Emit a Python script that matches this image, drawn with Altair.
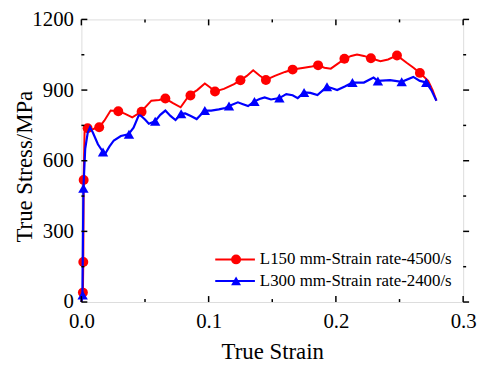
import altair as alt
import pandas as pd

# ---- data ----
red_strain = [0.0, 0.0012, 0.0015, 0.0018, 0.0025, 0.0035, 0.005, 0.008, 0.011, 0.014, 0.018, 0.023,
              0.029, 0.034, 0.040, 0.047, 0.055, 0.061, 0.066, 0.072, 0.078, 0.085, 0.091, 0.097,
              0.101, 0.105, 0.112, 0.120, 0.125, 0.130, 0.135, 0.140, 0.145, 0.152, 0.160, 0.166,
              0.175, 0.181, 0.186, 0.191, 0.196, 0.201, 0.207, 0.212, 0.2166, 0.222, 0.2275, 0.235,
              0.241, 0.248, 0.2556, 0.261, 0.266, 0.2725, 0.276, 0.279]
red_stress = [0, 40, 170, 518, 720, 745, 738, 732, 738, 742, 770, 813,
              810, 800, 784, 808, 855, 858, 864, 845, 827, 880, 900, 928,
              912, 894, 905, 925, 942, 960, 984, 962, 943, 960, 977, 987,
              995, 1000, 1005, 995, 991, 1010, 1033, 1045, 1051, 1045, 1035, 1023,
              1030, 1047, 1016, 995, 973, 939, 900, 855]

red_mk_strain = [0.0012, 0.0015, 0.0018, 0.0049, 0.014, 0.029, 0.0473, 0.066, 0.0857, 0.105, 0.125,
                 0.145, 0.166, 0.186, 0.2067, 0.2275, 0.248, 0.266]
red_mk_stress = [40, 170, 518, 738, 742, 810, 808, 864, 877, 894, 942,
                 943, 987, 1005, 1033, 1035, 1047, 973]

blue_strain = [0.0, 0.0008, 0.0012, 0.0016, 0.003, 0.005, 0.0068, 0.009, 0.013, 0.017, 0.019, 0.022,
               0.0255, 0.031, 0.037, 0.041, 0.045, 0.0465, 0.050, 0.053, 0.058, 0.062, 0.066, 0.070,
               0.074, 0.0784, 0.0816, 0.086, 0.0906, 0.097, 0.102, 0.108, 0.113, 0.116, 0.123, 0.127,
               0.131, 0.136, 0.140, 0.144, 0.149, 0.1556, 0.161, 0.166, 0.170, 0.175, 0.180, 0.1855,
               0.193, 0.197, 0.201, 0.207, 0.213, 0.222, 0.2296, 0.233, 0.2426, 0.2517, 0.2608,
               0.266, 0.271, 0.275, 0.279]
blue_stress = [0, 25, 250, 483, 650, 720, 742, 720, 670, 637, 632, 660,
               686, 705, 712, 740, 792, 792, 775, 757, 768, 795, 813, 790,
               773, 799, 801, 790, 777, 813, 813, 818, 824, 832, 848, 840,
               832, 852, 862, 869, 860, 866, 883, 878, 866, 890, 888, 879,
               914, 908, 900, 915, 932, 932, 953, 939, 942, 935, 956,
               939, 932, 900, 855]

blue_mk_strain = [0.001, 0.0016, 0.017, 0.0374, 0.058, 0.0784, 0.097, 0.116, 0.136, 0.1556, 0.175,
                  0.193, 0.213, 0.233, 0.2517, 0.271]
blue_mk_stress = [30, 483, 637, 712, 768, 799, 813, 832, 852, 866, 890,
                  914, 932, 939, 935, 932]

series_labels = ["L150 mm-Strain rate-4500/s", "L300 mm-Strain rate-2400/s"]
x_major = [0.0, 0.1, 0.2, 0.3]
x_minor = [0.05, 0.15, 0.25]
y_major = [0, 300, 600, 900, 1200]
y_minor = [150, 450, 750, 1050]

# ---- layout constants ----
W, H = 385, 285
FONT = "Liberation Serif"
RED, BLUE = "#ff0000", "#0000ff"

xs = alt.Scale(domain=[0, 0.3], nice=False, zero=False)
ys = alt.Scale(domain=[0, 1200], nice=False, zero=False)

red_df = pd.DataFrame({"strain": red_strain, "stress": red_stress})
blue_df = pd.DataFrame({"strain": blue_strain, "stress": blue_stress})
red_mk = pd.DataFrame({"strain": red_mk_strain, "stress": red_mk_stress})
blue_mk = pd.DataFrame({"strain": blue_mk_strain, "stress": blue_mk_stress})

x_axis = alt.Axis(values=x_major, format=".1f", ticks=False, domain=False, grid=False,
                  labelFontSize=21, labelPadding=9, labelFont=FONT, labelColor="black",
                  title="True Strain", titleFontSize=23, titleFont=FONT, titleFontWeight="normal",
                  titleColor="black", titleY=57, titleBaseline="alphabetic", labelFlush=False)
y_axis = alt.Axis(values=y_major, format="d", ticks=False, domain=False, grid=False,
                  labelFontSize=21, labelPadding=8, labelFont=FONT, labelColor="black",
                  title="True Stress/MPa", titleFontSize=23, titleFont=FONT, titleFontWeight="normal",
                  titleColor="black", titleX=-50, titleY=148, titleAngle=270, titleAlign="center",
                  titleBaseline="alphabetic", labelFlush=False)

X = alt.X("strain:Q", scale=xs, axis=x_axis)
Y = alt.Y("stress:Q", scale=ys, axis=y_axis)

red_line = alt.Chart(red_df).mark_line(color=RED, strokeWidth=2).encode(x=X, y=Y, order="strain:Q")
blue_line = alt.Chart(blue_df).mark_line(color=BLUE, strokeWidth=2.2).encode(x=X, y=Y, order="strain:Q")
red_pts = alt.Chart(red_mk).mark_point(shape="circle", filled=True, color=RED, size=100, opacity=1).encode(x=X, y=Y)
blue_pts = alt.Chart(blue_mk).mark_point(shape="triangle-up", filled=True, color=BLUE, size=110, opacity=1).encode(x=X, y=Y)

def xticks(vals, y0, y1):
    return alt.Chart(pd.DataFrame({"strain": vals})).mark_rule(color="black", strokeWidth=1.5).encode(
        x=X, y=alt.value(y0), y2=alt.value(y1))

def yticks(vals, x0, x1):
    return alt.Chart(pd.DataFrame({"stress": vals})).mark_rule(color="black", strokeWidth=1.5).encode(
        y=Y, x=alt.value(x0), x2=alt.value(x1))

ticks = [
    xticks(x_major, H, H - 6), xticks(x_minor, H, H - 3),
    xticks(x_major, 0, 6), xticks(x_minor, 0, 3),
    yticks(y_major, 0, 6), yticks(y_minor, 0, 3),
    yticks(y_major, W, W + 6), yticks(y_minor, W, W + 3),
]

legend_layers = []
for i, (lab, col, shp) in enumerate(zip(series_labels, [RED, BLUE], ["circle", "triangle-up"])):
    yy = 242 + i * 21.7
    ldf = pd.DataFrame({"label": [lab]})
    legend_layers.append(alt.Chart(ldf).mark_rule(color=col, strokeWidth=2).encode(
        x=alt.value(135), x2=alt.value(175), y=alt.value(yy)))
    legend_layers.append(alt.Chart(ldf).mark_point(shape=shp, filled=True, color=col, size=100, opacity=1).encode(
        x=alt.value(156), y=alt.value(yy)))
    legend_layers.append(alt.Chart(ldf).mark_text(align="left", baseline="middle", font=FONT,
                                                  fontSize=17, color="black").encode(
        x=alt.value(180), y=alt.value(yy), text="label:N"))

chart = alt.layer(red_line, red_pts, blue_line, blue_pts, *ticks, *legend_layers).properties(
    width=W, height=H,
    autosize=alt.AutoSizeParams(type="none"),
    padding={"left": 74, "top": 10, "right": 18, "bottom": 64},
).configure_view(stroke="black", strokeWidth=2).configure_axis(
    labelFont=FONT, titleFont=FONT
).configure(background="white", font=FONT)

chart.save("out.html", embed_options={"renderer": "svg", "actions": False})
